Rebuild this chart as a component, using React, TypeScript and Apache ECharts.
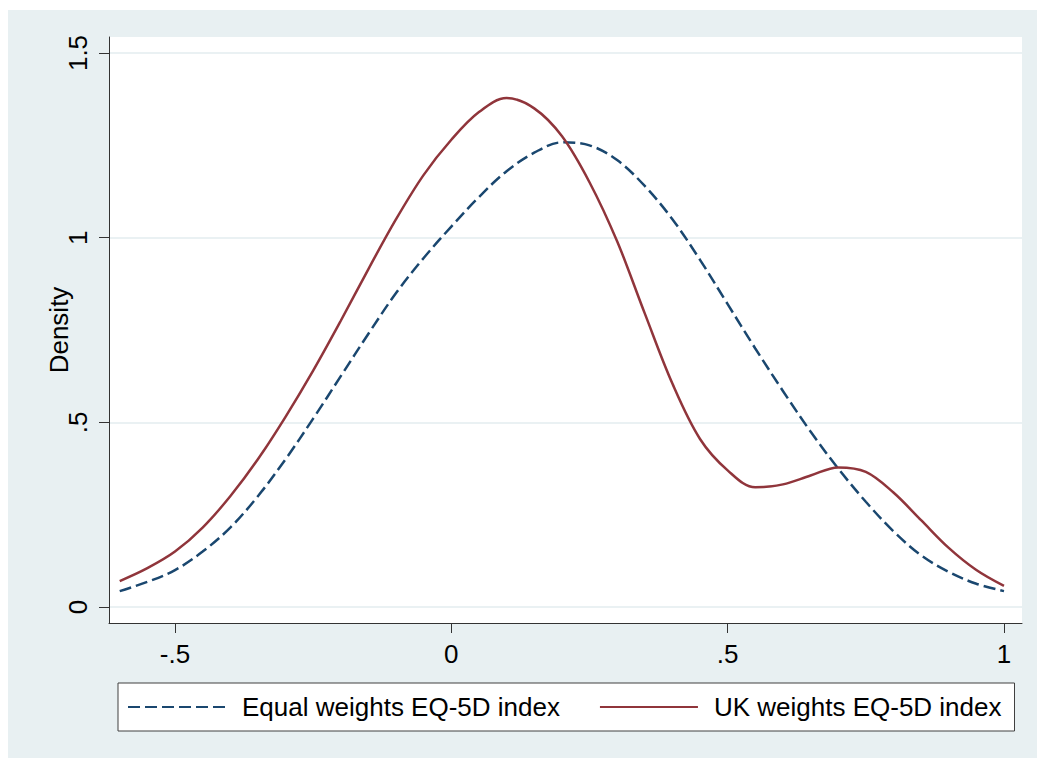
import React, { useEffect, useRef } from "react";
import * as echarts from "echarts";

const xValues = [
  -0.6, -0.55, -0.5, -0.45, -0.4, -0.35, -0.3, -0.25, -0.2, -0.15, -0.1, -0.05,
  0, 0.05, 0.1, 0.15, 0.2, 0.25, 0.3, 0.35, 0.4, 0.45, 0.5, 0.55, 0.6, 0.65,
  0.7, 0.75, 0.8, 0.85, 0.9, 0.95, 1.0,
];

const equalWeights = [
  0.043, 0.068, 0.1, 0.15, 0.215, 0.3, 0.4, 0.51, 0.625, 0.74, 0.85, 0.945,
  1.03, 1.11, 1.18, 1.23, 1.258, 1.25, 1.21, 1.14, 1.05, 0.94, 0.82, 0.7,
  0.585, 0.475, 0.375, 0.285, 0.205, 0.14, 0.095, 0.063, 0.043,
];

const ukWeights = [
  0.07, 0.105, 0.15, 0.215, 0.3, 0.4, 0.515, 0.64, 0.775, 0.915, 1.05, 1.17,
  1.265, 1.34, 1.378, 1.35, 1.275, 1.15, 0.99, 0.795, 0.605, 0.455, 0.37, 0.324,
  0.332, 0.356, 0.378, 0.366, 0.31, 0.235, 0.16, 0.1, 0.057,
];

const seriesNames = ["Equal weights EQ-5D index", "UK weights EQ-5D index"];
const xTicks = [-0.5, 0, 0.5, 1];
const yTicks = [0, 0.5, 1, 1.5];
const tickLabel = (v: number) => {
  if (v === 0) return "0";
  if (v === 0.5) return ".5";
  if (v === -0.5) return "-.5";
  if (v === 1) return "1";
  if (v === 1.5) return "1.5";
  return "";
};

const FONT = "'Liberation Sans', Arial, sans-serif";

export default function App() {
  const ref = useRef<HTMLDivElement>(null);
  useEffect(() => {
    if (!ref.current) return;
    const chart = echarts.init(ref.current, undefined, { renderer: "svg" });
    const mk = (ys: number[]) => xValues.map((x, i) => [x, ys[i]]);
    chart.setOption({
      animation: false,
      backgroundColor: "#e8f0f2",
      textStyle: { fontFamily: FONT },
      grid: {
        left: 101,
        top: 27,
        width: 913,
        height: 586,
        show: true,
        backgroundColor: "#ffffff",
        borderWidth: 0,
      },
      legend: {
        left: 110,
        top: 673,
        orient: "horizontal",
        padding: [11, 13, 11, 9],
        itemGap: 39,
        itemWidth: 98,
        itemHeight: 14,
        borderColor: "#404040",
        borderWidth: 1,
        borderRadius: 0,
        backgroundColor: "#ffffff",
        itemStyle: { color: "rgba(0,0,0,0)", borderWidth: 0, opacity: 0 },
        textStyle: { fontSize: 26, color: "#000", fontFamily: FONT, padding: [0, 0, 0, 11] },
        data: seriesNames,
      },
      xAxis: {
        type: "value",
        min: -0.6194,
        max: 1.0326,
        splitNumber: 3,
        axisLine: { show: true, onZero: false, lineStyle: { color: "#333", width: 1 } },
        axisTick: { show: true, length: 10, customValues: xTicks, lineStyle: { color: "#333" } },
        axisLabel: {
          customValues: xTicks,
          formatter: tickLabel,
          fontSize: 26,
          color: "#000",
          margin: 18,
          fontFamily: FONT,
        },
        splitLine: { show: false },
      },
      yAxis: {
        type: "value",
        min: -0.0433,
        max: 1.5433,
        splitNumber: 3,
        name: "Density",
        nameLocation: "middle",
        nameRotate: 90,
        nameGap: 37,
        nameMoveOverlap: false,
        nameTextStyle: { fontSize: 26, color: "#000", fontFamily: FONT },
        axisLine: { show: true, onZero: false, lineStyle: { color: "#333", width: 1 } },
        axisTick: { show: true, length: 10, customValues: yTicks, lineStyle: { color: "#333" } },
        axisLabel: {
          customValues: yTicks,
          formatter: tickLabel,
          rotate: 90,
          fontSize: 26,
          color: "#000",
          margin: 18,
          fontFamily: FONT,
        },
        splitLine: { show: true, lineStyle: { color: "#e3ecef", width: 1.5 } },
      },
      series: [
        {
          name: seriesNames[0],
          type: "line",
          data: mk(equalWeights),
          showSymbol: false,
          symbol: "none",
          smooth: 0.35,
          lineStyle: { color: "#1a476f", width: 2.5, type: [12, 5] },
          itemStyle: { color: "#1a476f" },
        },
        {
          name: seriesNames[1],
          type: "line",
          data: mk(ukWeights),
          showSymbol: false,
          symbol: "none",
          smooth: 0.35,
          lineStyle: { color: "#90353b", width: 2.5 },
          itemStyle: { color: "#90353b" },
        },
      ],
    });
    return () => chart.dispose();
  }, []);
  return (
    <div
      ref={ref}
      style={{ position: "fixed", left: 8, top: 10, width: 1029, height: 748 }}
    />
  );
}
